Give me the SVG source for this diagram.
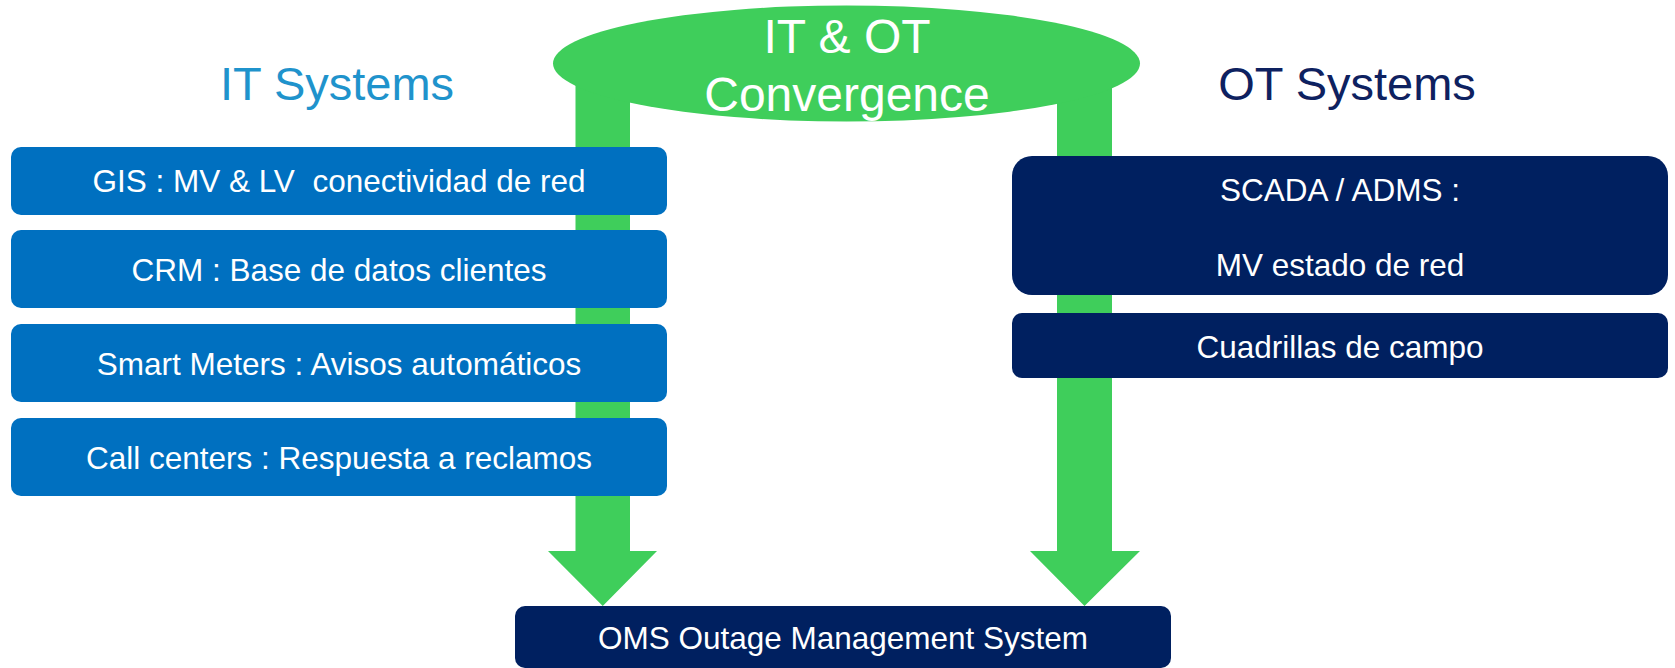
<svg xmlns="http://www.w3.org/2000/svg" width="1675" height="668" viewBox="0 0 1675 668">
<style>
text{font-family:"Liberation Sans",Arial,sans-serif;text-anchor:middle;white-space:pre}
.it rect{fill:#0070C0}
.ot rect{fill:#002060}
.lbl{fill:#FFFFFF;font-size:31.5px}
.big{fill:#FFFFFF;font-size:48px}
.green{fill:#3FCE5B}
</style>
<rect width="1675" height="668" fill="#FFFFFF"/>
<g id="connectors">
<polygon class="green" points="575.5,80 630,80 630,551 657,551 602.75,606 548,551 575.5,551"/>
<polygon class="green" points="1057,80 1112,80 1112,551 1140,551 1084.5,606 1030,551 1057,551"/>
</g>
<g id="convergence">
<ellipse class="green" cx="846.5" cy="63.5" rx="293.5" ry="58"/>
<text class="big" x="847" y="52.5">IT &amp; OT</text>
<text class="big" x="847" y="111">Convergence</text>
</g>
<g id="title-it"><text x="337" y="100" font-size="47" fill="#1F93CC">IT Systems</text></g>
<g id="title-ot"><text x="1347" y="100" font-size="47" fill="#0E2160">OT Systems</text></g>
<g id="gis" class="it"><rect x="11" y="147" width="656" height="68" rx="10"/><text class="lbl" x="339" y="192" xml:space="preserve">GIS : MV &amp; LV  conectividad de red</text></g>
<g id="crm" class="it"><rect x="11" y="230" width="656" height="78" rx="10"/><text class="lbl" x="339" y="280.5">CRM : Base de datos clientes</text></g>
<g id="smart-meters" class="it"><rect x="11" y="324" width="656" height="78" rx="10"/><text class="lbl" x="339" y="374.5">Smart Meters : Avisos automáticos</text></g>
<g id="call-centers" class="it"><rect x="11" y="418" width="656" height="78" rx="10"/><text class="lbl" x="339" y="468.5">Call centers : Respuesta a reclamos</text></g>
<g id="scada" class="ot"><rect x="1012" y="156" width="656" height="139" rx="20"/><text class="lbl" x="1340" y="201">SCADA / ADMS :</text><text class="lbl" x="1340" y="276">MV estado de red</text></g>
<g id="cuadrillas" class="ot"><rect x="1012" y="313" width="656" height="65" rx="10"/><text class="lbl" x="1340" y="357.5">Cuadrillas de campo</text></g>
<g id="oms" class="ot"><rect x="515" y="606" width="656" height="62" rx="10"/><text class="lbl" x="843" y="649">OMS Outage Management System</text></g>
</svg>
